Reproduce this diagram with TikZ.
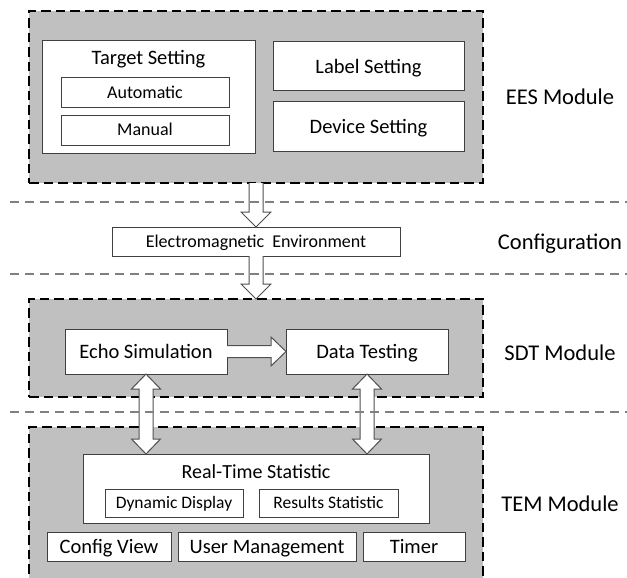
\documentclass[tikz,border=0pt]{standalone}
\usepackage{fontspec}
\setmainfont{Carlito}
\usetikzlibrary{calc}
\definecolor{modfill}{RGB}{192,192,192}
\definecolor{boxline}{RGB}{64,64,64}
\definecolor{sepline}{RGB}{128,128,128}
\definecolor{arrline}{RGB}{80,80,80}
\newcommand{\BlkDown}[2]{\filldraw[blk] let \p1=(#1), \p2=(#2) in (\x1-7,\y1) -- (\x1-7,\y2+15) -- (\x1-15,\y2+15) -- (\x2,\y2) -- (\x1+15,\y2+15) -- (\x1+7,\y2+15) -- (\x1+7,\y1);}
\newcommand{\BlkRight}[2]{\filldraw[blk] let \p1=(#1), \p2=(#2) in (\x1,\y1+6) -- (\x2-15,\y1+6) -- (\x2-15,\y1+14.5) -- (\x2,\y2) -- (\x2-15,\y1-14.5) -- (\x2-15,\y1-6) -- (\x1,\y1-6);}
\newcommand{\BlkDouble}[2]{\filldraw[blk] let \p1=(#1), \p2=(#2) in (\x1,\y1) -- (\x1+14.5,\y1-15) -- (\x1+7,\y1-15) -- (\x1+7,\y2+15) -- (\x1+14.5,\y2+15) -- (\x2,\y2) -- (\x1-14.5,\y2+15) -- (\x1-7,\y2+15) -- (\x1-7,\y1-15) -- (\x1-14.5,\y1-15) -- cycle;}
\tikzset{
  module/.style={draw=black, fill=modfill, line width=2.2pt, dash pattern=on 9.5pt off 5pt, minimum width=454pt, inner sep=0pt, outer sep=0pt},
  wbox/.style={draw=boxline, fill=white, line width=1pt, inner sep=0pt, outer sep=0pt, font=\fontsize{20.5}{24}\selectfont, text height=13.2pt, text depth=0pt},
  sbox/.style={wbox, font=\fontsize{18}{21}\selectfont, text height=11.6pt},
  tbox/.style={wbox, font=\fontsize{17.5}{21}\selectfont, text height=11.3pt},
  side/.style={font=\fontsize{22.5}{26}\selectfont, inner sep=0pt, text height=14.5pt, text depth=0pt},
  ttl/.style={font=\fontsize{20.5}{24}\selectfont, inner sep=0pt, text height=13.2pt, text depth=0pt},
  sep/.style={draw=sepline, line width=1.3pt, dash pattern=on 9pt off 6pt},
  blk/.style={fill=white, draw=arrline, line width=1pt, line join=miter}
}
\begin{document}
\begin{tikzpicture}[x=1pt,y=-1pt]
\clip (0,0) rectangle (627,578);
\fill[white] (0,0) rectangle (627,578);
% modules
\node[module, minimum height=172pt] (ees) at (256,97) {};
\node[module, minimum height=98pt] (sdt) at (256,348) {};
\node[module, minimum height=173pt] (tem) at (256,513.5) {};
% EES contents
\node[wbox, minimum width=213pt, minimum height=112pt] (target) at (148.5,97) {};
\node[ttl] (targetttl) at (148.5,57.5) {Target Setting};
\node[sbox, minimum width=168pt, minimum height=30pt] (auto) at (145,93) {Automatic};
\node[sbox, minimum width=168pt, minimum height=30pt] (manual) at (145,130) {Manual};
\node[wbox, minimum width=191pt, minimum height=49pt] (label) at (368.5,66.5) {Label Setting};
\node[wbox, minimum width=191pt, minimum height=49pt] (device) at (368.5,126.5) {Device Setting};
\node[side] (eeslbl) at (560,97) {EES Module};
% configuration
\node[sbox, minimum width=288pt, minimum height=29pt] (em) at (256,241.5) {Electromagnetic~ Environment};
\node[side] (conflbl) at (560,242) {Configuration};
% SDT contents
\node[wbox, minimum width=162pt, minimum height=45pt] (echo) at (146,351.5) {Echo Simulation};
\node[wbox, minimum width=162pt, minimum height=45pt] (data) at (367,351.5) {Data Testing};
\node[side] (sdtlbl) at (560,353) {SDT Module};
% TEM contents
\node[wbox, minimum width=346pt, minimum height=69pt] (rts) at (256,488.5) {};
\node[ttl, font=\fontsize{20}{24}\selectfont, text height=12.9pt] (rtsttl) at (256,472) {Real-Time Statistic};
\node[tbox, minimum width=138pt, minimum height=28pt] (dyn) at (174,503) {Dynamic Display};
\node[tbox, minimum width=139pt, minimum height=28pt] (res) at (328.5,503) {Results Statistic};
\node[wbox, minimum width=124pt, minimum height=29pt] (cfg) at (109,546.5) {Config View};
\node[wbox, minimum width=178pt, minimum height=29pt] (usr) at (267,546.5) {User Management};
\node[wbox, minimum width=102pt, minimum height=29pt] (tmr) at (414,546.5) {Timer};
\node[side] (temlbl) at (560,504) {TEM Module};
% arrows
\BlkDown{ees.south}{em.north}
\BlkDown{em.south}{sdt.north}
\BlkRight{echo.east}{data.west}
\BlkDouble{echo.south}{echo.south |- rts.north}
\BlkDouble{data.south}{data.south |- rts.north}
% separators
\coordinate (s1a) at (10,202); \coordinate (s1b) at (627,202);
\coordinate (s2a) at (10,274); \coordinate (s2b) at (627,274);
\coordinate (s3a) at (10,412); \coordinate (s3b) at (627,412);
\draw[sep] (s1a) -- (s1b);
\draw[sep] (s2a) -- (s2b);
\draw[sep] (s3a) -- (s3b);
\end{tikzpicture}
\end{document}
